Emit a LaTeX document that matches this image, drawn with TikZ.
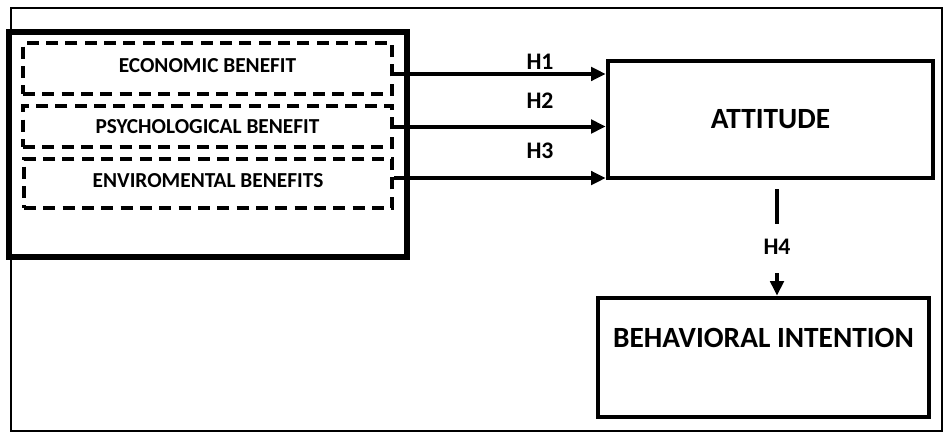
\documentclass[tikz,border=0pt]{standalone}
\usepackage{fontspec}
\setmainfont{Carlito}
\usetikzlibrary{arrows.meta}
\begin{document}
\begin{tikzpicture}[x=0.75pt,y=-0.75pt,
  frame/.style={draw,line width=1.8pt},
  groupbox/.style={draw,line width=4pt,minimum width=298.5pt,minimum height=168.75pt,inner sep=0pt},
  benefit/.style={draw,dash pattern=on 9pt off 5.5pt,line width=3pt,inner sep=0pt,
    font=\bfseries\fontsize{16}{18}\selectfont},
  construct/.style={draw,line width=3.4pt,inner sep=0pt},
  hyp/.style={font=\bfseries\fontsize{17.8}{20}\selectfont,inner sep=0pt},
  conn/.style={line width=3pt},
  arr/.style={conn,-{Triangle[length=11pt,width=10pt]}}]
\useasboundingbox (0,0) rectangle (945,432);
% outer frame
\draw[frame] (11,8) rectangle (942,431);
% benefit group
\node[groupbox] (group) at (208,144.5) {};
\node[benefit,minimum width=276.75pt,minimum height=38.25pt,text depth=5pt] (eco) at (207.5,68.5) {ECONOMIC BENEFIT};
\node[benefit,minimum width=276.75pt,minimum height=30.75pt] (psy) at (207.5,126.5) {PSYCHOLOGICAL BENEFIT};
\node[benefit,minimum width=276pt,minimum height=36.75pt,text depth=5pt] (env) at (208,183.5) {ENVIROMENTAL BENEFITS};
% constructs
\node[construct,minimum width=243.75pt,minimum height=87.75pt,
  font=\bfseries\fontsize{22}{26}\selectfont] (att) at (770.5,119.5) {ATTITUDE};
\node[construct,minimum width=248.25pt,minimum height=89.25pt,
  font=\bfseries\fontsize{22}{26}\selectfont,text height=14pt,text depth=29pt] (beh) at (763.5,357.5) {BEHAVIORAL INTENTION};
% hypothesis labels
\node[hyp] (h1) at (540,62) {H1};
\node[hyp] (h2) at (540,101) {H2};
\node[hyp] (h3) at (540,151) {H3};
\node[hyp] (h4) at (777,247) {H4};
% paths
\draw[arr] ([yshift=-4.1pt]eco.east) -- ([yshift=-4.1pt]eco.east -| att.west);
\draw[arr] (psy.east) -- (psy.east -| att.west);
\draw[arr] ([yshift=4.1pt]env.east) -- ([yshift=4.1pt]env.east -| att.west);
\draw[conn,line width=3.4pt] (h4.center |- att.south) ++(0,9) -- ++(0,35);
\draw[arr,line width=3.4pt] (h4.center) ++(0,26) -- (h4.center |- beh.north);
\end{tikzpicture}
\end{document}
